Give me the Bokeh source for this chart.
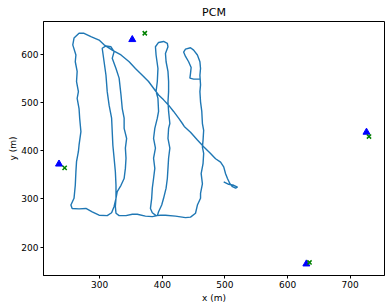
from bokeh.plotting import figure
from bokeh.models import Range1d, FixedTicker, Title
from bokeh.embed import file_html
from bokeh.resources import INLINE

# Estimated trajectory (m)
path_x = [498, 506, 514, 520, 517, 512, 508, 504, 501, 498, 493, 485, 477, 466, 456, 445, 435, 432, 426,
          418, 410, 402, 394, 386, 378, 368, 357, 347, 334, 320, 307, 299, 286, 275, 267, 259, 257, 262,
          261, 264, 263, 266, 264, 267, 268, 270, 267, 266, 263, 262, 261, 259, 254, 256, 267, 278, 288,
          299, 312, 319, 323, 326, 328, 334, 339, 341, 342, 341, 343, 339, 339, 336, 334, 331, 326, 320,
          323, 318, 310, 304, 307, 310, 312, 315, 319, 320, 321, 323, 325, 326, 326, 325, 326, 331, 342,
          352, 360, 373, 384, 392, 394, 399, 402, 406, 408, 409, 410, 412, 409, 410, 412, 410, 409, 410,
          410, 409, 406, 405, 409, 408, 402, 394, 389, 390, 393, 392, 390, 393, 394, 392, 388, 386, 389,
          386, 388, 386, 384, 383, 381, 384, 390, 397, 405, 421, 437, 445, 453, 456, 461, 461, 464, 462,
          465, 466, 464, 465, 466, 464, 463, 461, 460, 461, 460, 461, 460, 456, 450, 445, 437, 434, 437,
          442, 446, 445, 444, 450, 460]
path_y = [335, 330, 328, 324, 322, 325, 331, 342, 352, 366, 376, 383, 394, 408, 422, 438, 450, 456, 467,
          481, 494, 505, 515, 529, 543, 556, 570, 584, 598, 608, 619, 629, 636, 643, 643, 633, 619, 598,
          584, 564, 543, 522, 508, 487, 467, 439, 411, 398, 377, 356, 328, 301, 287, 280, 279, 280, 273,
          266, 265, 271, 284, 301, 315, 328, 342, 363, 384, 405, 425, 446, 467, 487, 515, 550, 570, 591,
          605, 615, 617, 612, 584, 556, 522, 494, 467, 439, 411, 384, 356, 328, 301, 284, 270, 265, 265,
          268, 268, 264, 263, 265, 273, 287, 301, 322, 342, 363, 384, 405, 425, 446, 456, 481, 501, 522,
          543, 564, 584, 601, 615, 622, 626, 624, 615, 598, 570, 543, 522, 508, 481, 467, 446, 425, 405,
          384, 363, 342, 322, 301, 280, 271, 265, 266, 266, 264, 261, 262, 270, 287, 301, 311, 331, 352,
          373, 394, 407, 421, 442, 456, 481, 501, 522, 536, 556, 570, 584, 598, 608, 613, 610, 604, 595,
          584, 572, 560, 550, 548, 548]

# Anchors (blue triangles) and estimates (green crosses)
anchor_x = [352, 726, 235, 630]
anchor_y = [630, 438, 372, 165]
est_x = [372, 730, 244, 635]
est_y = [643, 429, 364, 168]

x_ticks = [300, 400, 500, 600, 700]
y_ticks = [200, 300, 400, 500, 600]

FONT = "DejaVu Sans"

p = figure(width=389, height=303, output_backend="svg", toolbar_location=None,
           x_range=Range1d(210.25, 754.75), y_range=Range1d(141, 667.4),
           title="PCM", min_border_left=43, min_border_right=5, min_border_top=21,
           min_border_bottom=28)

p.title.text_font = FONT
p.title.text_font_size = "11px"
p.title.text_font_style = "normal"
p.title.align = "center"
p.title.text_color = "black"
p.title.standoff = 5

xlab = Title(text="x (m)", align="center", text_font=FONT, text_font_size="9px",
             text_font_style="normal", text_color="black", standoff=0, offset=0)
p.add_layout(xlab, "below")

p.xgrid.visible = False
p.ygrid.visible = False
p.outline_line_color = "black"
p.outline_line_width = 1
p.background_fill_color = "white"
p.border_fill_color = "white"

p.xaxis.ticker = FixedTicker(ticks=x_ticks)
p.yaxis.ticker = FixedTicker(ticks=y_ticks)
p.yaxis.axis_label = "y (m)"
for ax in (p.xaxis, p.yaxis):
    ax.major_tick_out = 3
    ax.major_tick_in = 0
    ax.minor_tick_out = 0
    ax.minor_tick_in = 0
    ax.major_label_standoff = 2
    ax.major_label_text_font = FONT
    ax.major_label_text_font_size = "9px"
    ax.major_label_text_color = "black"
    ax.axis_label_text_font = FONT
    ax.axis_label_text_font_size = "9px"
    ax.axis_label_text_font_style = "normal"
    ax.axis_label_text_color = "black"
    ax.axis_label_standoff = 0
    ax.axis_line_color = "black"
    ax.major_tick_line_color = "black"

p.line(path_x, path_y, line_color="#1f77b4", line_width=1.4)
p.scatter(anchor_x, anchor_y, marker="triangle", size=7, fill_color="blue", line_color="blue")
p.scatter(est_x, est_y, marker="x", size=6, line_color="green", line_width=1.5)

open("out.html", "w").write(file_html(p, INLINE))
